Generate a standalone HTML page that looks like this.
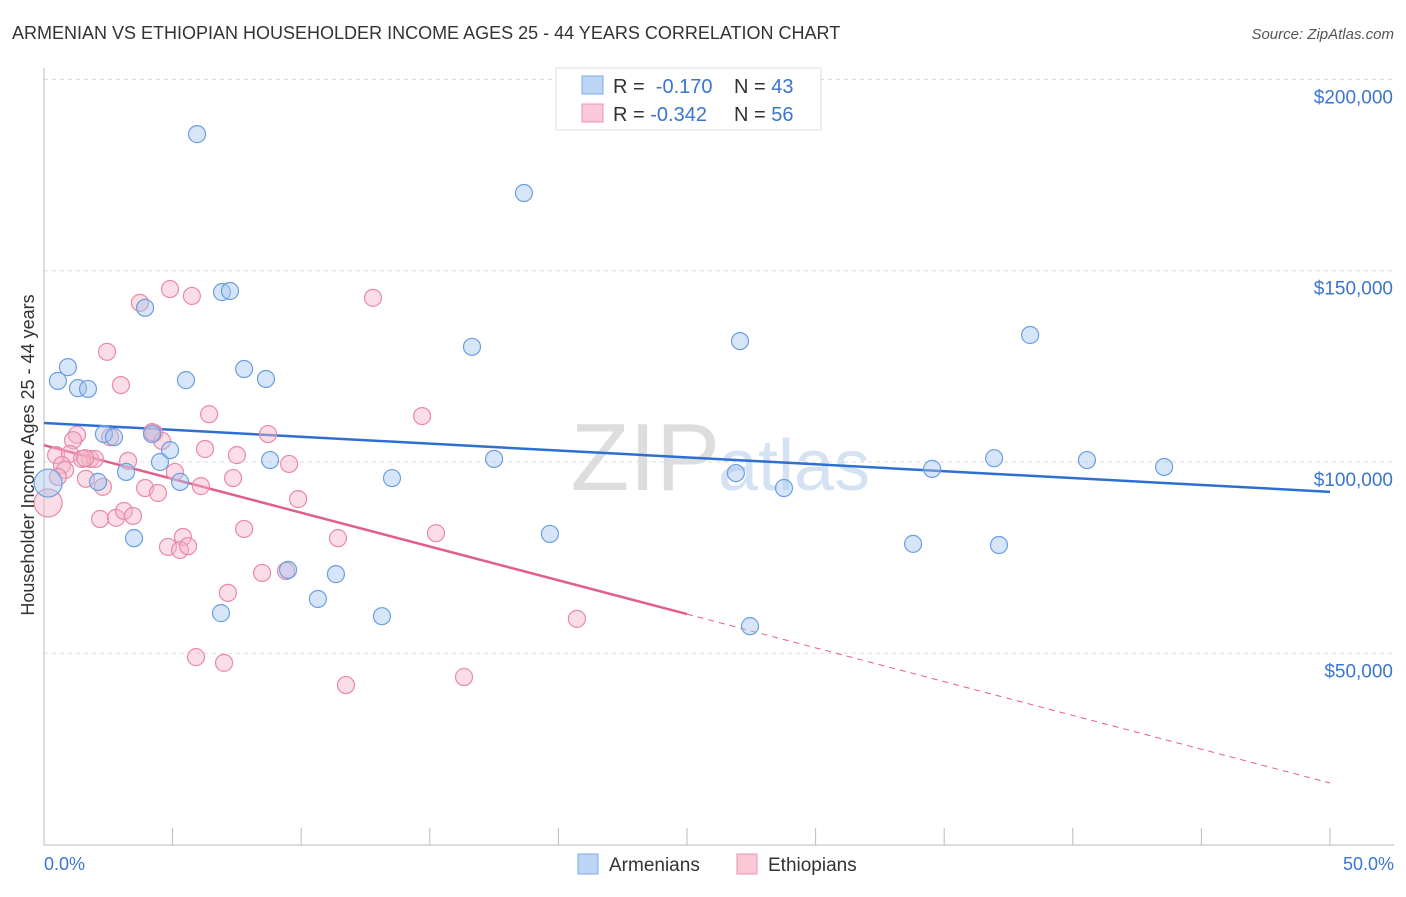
<!DOCTYPE html>
<html><head><meta charset="utf-8"><style>
body{margin:0;background:#fff;font-family:"Liberation Sans",sans-serif;}
svg text{font-family:"Liberation Sans",sans-serif;}
</style></head><body>
<svg id="chart" width="1406" height="892" xmlns="http://www.w3.org/2000/svg">
<text x="12" y="39" font-size="18" fill="#333">ARMENIAN VS ETHIOPIAN HOUSEHOLDER INCOME AGES 25 - 44 YEARS CORRELATION CHART</text>
<text x="1394" y="39" font-size="15" fill="#555" font-style="italic" text-anchor="end">Source: ZipAtlas.com</text>
<text x="720" y="490" font-size="96" fill="#ddd" text-anchor="end" font-family="Liberation Serif">ZIP</text>
<text x="718" y="490" font-size="72" fill="#d4e2f4">atlas</text>
<g id="grid"></g><g id="axes"></g><g id="lines"></g><g id="pts"></g>
<text transform="translate(34,455) rotate(-90)" font-size="18" fill="#333" text-anchor="middle">Householder Income Ages 25 - 44 years</text>
<text x="44" y="870" font-size="18" fill="#3a75d0">0.0%</text>
<text x="1394" y="870" font-size="18" fill="#3a75d0" text-anchor="end">50.0%</text>
<g>
<rect x="556" y="68" width="265" height="62" fill="#fff" stroke="#ddd"/>
<rect x="582" y="76" width="21" height="18" fill="#bcd5f5" stroke="#7aa9e6"/>
<rect x="582" y="104" width="21" height="18" fill="#fac8d7" stroke="#ec93b0"/>
<text x="613" y="93" font-size="20" fill="#333">R = <tspan fill="#3a75d0">&#160;-0.170</tspan><tspan x="734">N = </tspan><tspan fill="#3a75d0">43</tspan></text>
<text x="613" y="121" font-size="20" fill="#333">R = <tspan fill="#3a75d0">-0.342</tspan><tspan x="734">N = </tspan><tspan fill="#3a75d0">56</tspan></text>
</g>
<g>
<rect x="578" y="854" width="20" height="20" fill="#bcd5f5" stroke="#7aa9e6"/>
<text x="609" y="871" font-size="19" fill="#333">Armenians</text>
<rect x="737" y="854" width="20" height="20" fill="#fac8d7" stroke="#ec93b0"/>
<text x="768" y="871" font-size="19" fill="#333">Ethiopians</text>
</g>
</svg>
<script>
const yTicks=[50000,100000,150000,200000];
const yTickLabels=["$50,000","$100,000","$150,000","$200,000"];
const xTicks=[0,5,10,15,20,25,30,35,40,45,50];
const armX=[5.95,18.66,6.92,7.23,3.93,0.93,0.54,1.32,1.71,5.52,7.78,8.63,16.64,27.06,38.34,2.33,2.72,4.20,4.90,4.51,8.79,17.50,3.19,2.10,5.29,13.53,26.9,28.77,34.53,36.94,40.55,43.55,0.16,3.50,19.67,33.79,37.13,9.49,11.35,10.65,6.88,13.14,27.45];
const armY=[185.7,170.3,144.4,144.7,140.3,124.8,121.2,119.3,119.1,121.4,124.3,121.7,130.1,131.6,133.2,107.3,106.5,107.3,103.1,100.0,100.5,100.8,97.4,94.8,94.8,95.8,97.1,93.2,98.2,101.0,100.5,98.7,94.5,80.1,81.2,78.6,78.3,71.8,70.7,64.2,60.5,59.7,57.1];
const ethX=[3.73,4.90,5.75,12.79,2.45,2.99,6.42,14.70,1.28,1.13,4.28,4.59,8.71,0.47,1.01,1.79,1.98,3.27,6.26,7.50,0.70,0.82,5.09,9.53,0.54,1.63,2.29,3.93,4.43,6.10,7.35,9.88,0.16,2.18,2.80,3.11,3.46,5.40,4.82,5.29,5.60,7.78,11.43,15.24,8.48,9.41,7.15,5.91,7.00,11.74,16.33,20.72,2.57,1.48,4.20,1.6];
const ethY=[141.6,145.2,143.4,142.9,128.8,120.1,112.5,112.0,107.1,105.7,107.6,105.5,107.3,101.8,102.1,100.8,100.8,100.3,103.4,101.8,99.2,97.9,97.4,99.5,96.1,95.6,93.5,93.2,91.9,93.7,95.8,90.3,89.3,85.1,85.4,87.2,85.9,80.4,77.8,77.0,78.0,82.5,80.1,81.4,71.0,71.5,65.8,49.0,47.5,41.7,43.8,59.0,106.5,100.8,107.8,101.0];
const armTrend=[110.2,92.2];
const ethTrend=[104.4,16.1];
const NS="http://www.w3.org/2000/svg";
const sx=v=>44+v*25.72;
const sy=v=>844.6-v/50000*191.3;
function mk(t,a,p){const e=document.createElementNS(NS,t);for(const k in a)e.setAttribute(k,a[k]);document.getElementById(p).appendChild(e);return e;}
yTicks.forEach((t,i)=>{
 const l=mk('line',{x1:44,x2:1394,y1:sy(t),y2:sy(t),stroke:'#ddd','stroke-dasharray':'4,4'},'grid');
 
 
 const tx=mk('text',{x:1393,y:sy(t)+24,'font-size':19,fill:'#3a75d0','text-anchor':'end'},'grid');
 tx.textContent=yTickLabels[i];
 
 
});
mk('line',{x1:44,x2:1394,y1:sy(200000)-0,y2:sy(200000),stroke:'#ddd','stroke-dasharray':'4,4'},'grid');
const ya=mk('line',{x1:44,x2:44,y1:68,y2:845,stroke:'#bbb'},'axes');


const xa=mk('line',{x1:44,x2:1394,y1:845,y2:845,stroke:'#bbb'},'axes');


xTicks.forEach(t=>{const l=mk('line',{x1:sx(t),x2:sx(t),y1:828,y2:845,stroke:'#bbb'},'axes');
 
 });
function pts(X,Y,fill,stroke,name){X.forEach((x,i)=>{const r=x<0.3?14:8.5;
 const c=mk('circle',{cx:sx(x),cy:sy(Y[i]*1000),r:r,fill:fill,'fill-opacity':0.45,stroke:stroke,'stroke-width':1.2},'pts');
 
 });}
pts(ethX,ethY,'#f5b3c8','#e88aa8','ethiopian-point');
pts(armX,armY,'#a6c6f0','#6b9fe0','armenian-point');
const bl=mk('line',{x1:sx(0),y1:sy(armTrend[0]*1000),x2:sx(50),y2:sy(armTrend[1]*1000),stroke:'#2f6fd0','stroke-width':2.5},'lines');


const ym=ethTrend[0]+(ethTrend[1]-ethTrend[0])*0.5;
const pl=mk('line',{x1:sx(0),y1:sy(ethTrend[0]*1000),x2:sx(25),y2:sy(ym*1000),stroke:'#e0608a','stroke-width':2.5},'lines');


const pd=mk('line',{x1:sx(25),y1:sy(ym*1000),x2:sx(50),y2:sy(ethTrend[1]*1000),stroke:'#e0608a','stroke-width':1,'stroke-dasharray':'6,5'},'lines');


</script>
</body></html>
